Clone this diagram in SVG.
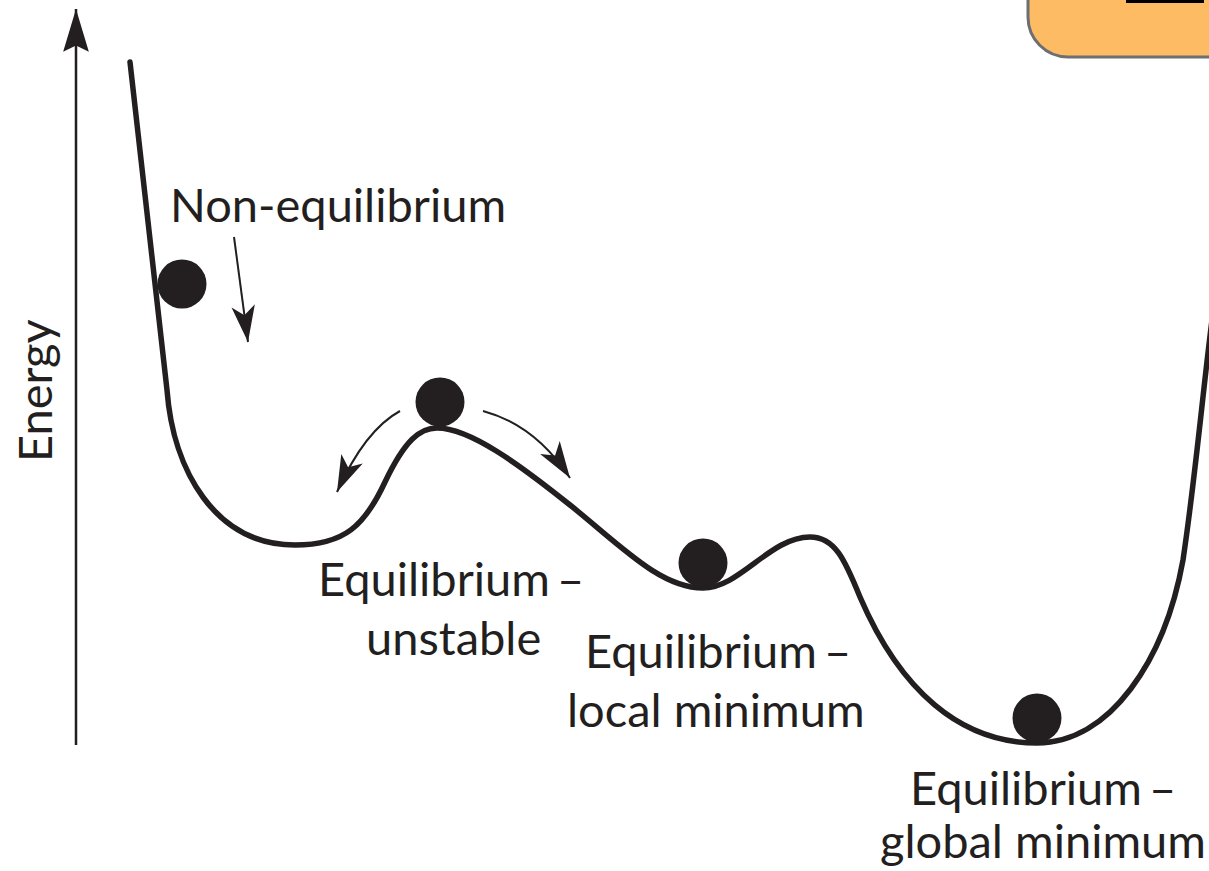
<svg xmlns="http://www.w3.org/2000/svg" width="1209" height="871" viewBox="0 0 1209 871">
<defs>
<style>
.lbl{font-family:Lato,"Open Sans","Liberation Sans",sans-serif;font-size:47px;fill:#231F20}
.curve{fill:none;stroke:#231F20;stroke-width:5.5;stroke-linecap:round;stroke-linejoin:round}
.thin{fill:none;stroke:#231F20;stroke-width:2}
.ball{fill:#231F20}
</style>
<marker id="head" markerUnits="userSpaceOnUse" markerWidth="40" markerHeight="30" viewBox="-32 -12 34 24" refX="0" refY="0" orient="auto">
<path d="M0,0 L-31,-10 L-23,0 L-31,10 Z" fill="#231F20"/>
</marker>
<marker id="axhead" markerUnits="userSpaceOnUse" markerWidth="50" markerHeight="30" viewBox="-42 -14 44 28" refX="0" refY="0" orient="auto">
<path d="M0,0 L-40,-12 L-34,0 L-40,12 Z" fill="#231F20"/>
</marker>
</defs>
<rect width="1209" height="871" fill="#FFFFFF"/>
<g id="corner-box">
<rect x="1028" y="-50" width="260" height="107" rx="40" fill="#FDBB63" stroke="#6D6E71" stroke-width="3"/>
<rect x="1126" y="0" width="78" height="3" fill="#000000"/>
</g>
<g id="axis">
<line x1="76" y1="745" x2="76" y2="9" stroke="#231F20" stroke-width="2.5" marker-end="url(#axhead)"/>
<text id="energy" class="lbl" transform="translate(52,462) rotate(-90)">Energy</text>
</g>
<g id="energy-curve">
<path class="curve" d="M130,62 L167,390 C173,470 215,545 295,545 C345,545 365,525 385,482 C405,440 420,428 437,428 C470,428 520,465 570,505 C620,545 660,588 703,588 C740,588 770,537 810,537 C835,537 845,560 860,597 C900,690 960,743 1037,743 C1110,743 1165,660 1183,560 C1195,480 1203,390 1212,320"/>
</g>
<g id="ball-nonequilibrium"><circle class="ball" cx="182" cy="284" r="24.5"/></g>
<g id="ball-unstable"><circle class="ball" cx="440" cy="402" r="24.5"/></g>
<g id="ball-local"><circle class="ball" cx="703" cy="563" r="24.5"/></g>
<g id="ball-global"><circle class="ball" cx="1037" cy="718" r="24.5"/></g>
<g id="connectors">
<path class="thin" d="M234,237 L248,342" marker-end="url(#head)"/>
<path class="thin" d="M400,411 Q365,430 337,492" marker-end="url(#head)"/>
<path class="thin" d="M483,411 Q535,425 570,478" marker-end="url(#head)"/>
</g>
<g id="label-nonequilibrium"><text class="lbl" x="170" y="222">Non-equilibrium</text></g>
<g id="label-unstable">
<text class="lbl" x="318" y="596">Equilibrium<tspan dx="7">–</tspan></text>
<text class="lbl" x="366" y="655">unstable</text>
</g>
<g id="label-local">
<text class="lbl" x="585" y="668">Equilibrium<tspan dx="7">–</tspan></text>
<text class="lbl" x="567" y="727">local minimum</text>
</g>
<g id="label-global">
<text class="lbl" x="910" y="805">Equilibrium<tspan dx="7">–</tspan></text>
<text class="lbl" x="880" y="858">global minimum</text>
</g>
</svg>
